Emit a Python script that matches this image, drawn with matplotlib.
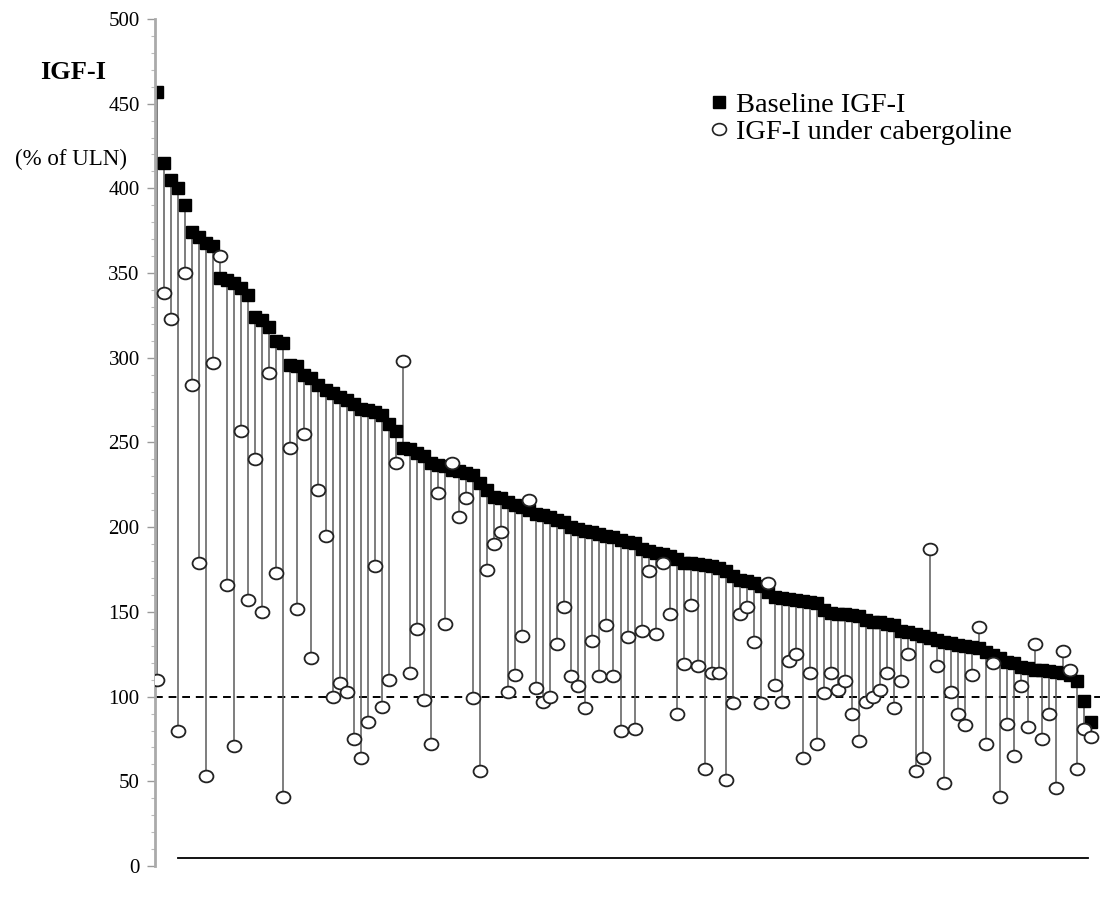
import numpy as np
import matplotlib.pyplot as plt
from matplotlib.path import Path
from matplotlib.lines import Line2D

plt.rcParams['font.family'] = ['Liberation Serif', 'DejaVu Serif']

# IGF-I (% of ULN) per patient, sorted by baseline value
baseline = [457, 415, 405, 400, 390, 374, 371, 368, 366, 347,
            346, 344, 341, 337, 324, 322, 318, 310, 309, 296,
            295, 290, 288, 284, 281, 279, 277, 275, 273, 270,
            269, 268, 266, 261, 257, 247, 246, 244, 242, 238,
            237, 236, 234, 233, 232, 231, 226, 222, 218, 217,
            215, 213, 212, 210, 208, 207, 206, 204, 203, 200,
            199, 198, 197, 196, 195, 194.5, 192.5, 191.5, 190.5, 187,
            186, 185, 184, 183, 181, 179, 178.7, 178, 177.8, 177,
            176, 174, 171, 169, 168, 167, 165, 162, 159, 158,
            157.5, 157, 156.5, 156, 155, 151, 149.5, 149, 148.5, 148,
            147.5, 145, 144, 144, 143, 142.5, 139, 138, 137, 135.5,
            134.5, 133.5, 132.5, 131.5, 130.5, 130, 129.5, 128.5, 126.6, 124.6,
            122.6, 120.7, 119.7, 117.7, 116.7, 115.7, 115.5, 115, 114.5, 114,
            113, 109, 97.4, 85]

cabergoline = [110, 338, 323, 80, 350, 284, 179, 53, 297, 360,
               166, 71, 257, 157, 240, 150, 291, 173, 41, 247,
               152, 255, 123, 222, 195, 100, 108, 103, 75, 64,
               85, 177, 94, 110, 238, 298, 114, 140, 98, 72,
               220, 143, 238, 206, 217, 99, 56, 175, 190, 197,
               103, 113, 136, 216, 105, 97, 100, 131, 153, 112,
               106, 93, 133, 112, 142, 112, 80, 135, 81, 139,
               174, 137, 179, 149, 90, 119, 154, 118, 57, 114,
               114, 51, 96, 149, 153, 132, 96, 167, 107, 97,
               121, 125, 64, 114, 72, 102, 114, 104, 109, 90,
               74, 97, 100, 104, 114, 93, 109, 125, 56, 64,
               187, 118, 49, 103, 90, 83, 113, 141, 72, 120,
               41, 84, 65, 106, 82, 131, 75, 90, 46, 127,
               116, 57, 81, 76]

uln_limit = 100
yticks = [0, 50, 100, 150, 200, 250, 300, 350, 400, 450, 500]

n = len(baseline)
x = np.arange(1, n + 1)

# slightly flattened circle, like the source figure
circ = Path.unit_circle()
ellipse = Path(circ.vertices * [1.18, 1.0], circ.codes)

fig = plt.figure(figsize=(11.03, 9.01), dpi=100)
ax = fig.add_axes([0.1405, 0.0388, 0.857, 0.9402])

ax.vlines(x, cabergoline, baseline, colors='#5a5a5a', lw=1.1, zorder=1)
ax.plot(x, baseline, ls='none', marker='s', ms=9, mfc='black', mec='black', zorder=2)
ax.plot(x, cabergoline, ls='none', marker=ellipse, ms=10, mfc='white', mec='#222222',
        mew=1.3, zorder=3)
ax.axhline(uln_limit, color='black', lw=1.4, ls=(0, (4, 3)), zorder=0)

ax.set_ylim(0, 500)
ax.set_xlim(0.72, n + 1.3)
ax.set_yticks(yticks)
ax.set_yticks(np.arange(0, 501, 10), minor=True)
ax.tick_params(axis='y', which='major', length=6, width=1, color='#999999',
               labelsize=15, pad=5)
ax.tick_params(axis='y', which='minor', length=3, width=0.8, color='#bbbbbb')
ax.set_xticks([])

for s in ['top', 'right']:
    ax.spines[s].set_visible(False)
ax.spines['left'].set_color('#aaaaaa')
ax.spines['left'].set_linewidth(2)
ax.spines['bottom'].set_position(('data', 5))
ax.spines['bottom'].set_bounds(4, n - 0.4)
ax.spines['bottom'].set_linewidth(1.3)

fig.text(0.066, 0.92, 'IGF-I', fontsize=19, fontweight='bold', ha='center', va='center')
fig.text(0.064, 0.823, '(% of ULN)', fontsize=16.5, ha='center', va='center')

handles = [Line2D([], [], ls='none', marker='s', ms=8, mfc='black', mec='black'),
           Line2D([], [], ls='none', marker=ellipse, ms=10, mfc='white', mec='#222222', mew=1.2)]
ax.legend(handles, ['Baseline IGF-I', 'IGF-I under cabergoline'], loc='upper left',
          bbox_to_anchor=(0.571, 0.927), frameon=False, fontsize=20.5, handletextpad=0.15,
          handlelength=0.9, labelspacing=0.02, borderaxespad=0)

fig.savefig('out.png', dpi=100)
